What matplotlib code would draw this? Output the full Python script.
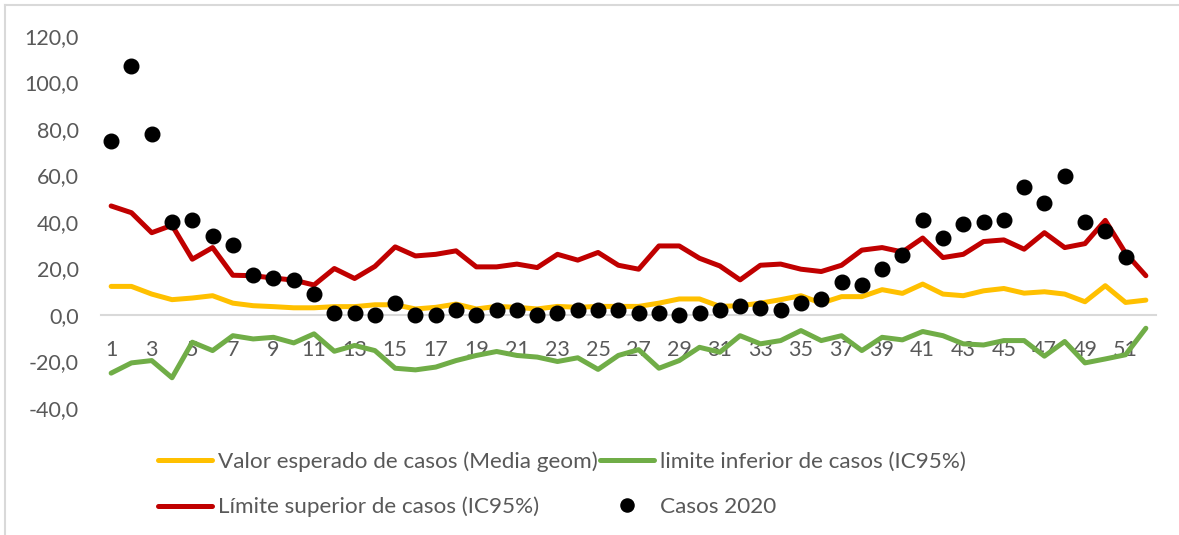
import matplotlib.pyplot as plt
from matplotlib.lines import Line2D

# semanas epidemiologicas
semanas = list(range(1, 53))

esperado = [12.3, 12.3, 9.0, 6.6, 7.3, 8.3, 5.1, 4.0, 3.6, 3.1,
            3.1, 3.6, 3.6, 4.4, 4.4, 2.6, 3.3, 4.7, 2.6, 3.7,
            3.3, 2.6, 3.7, 3.3, 3.7, 3.7, 3.7, 5.1, 6.9, 6.9,
            3.7, 4.0, 5.1, 6.6, 8.3, 5.1, 7.9, 7.9, 10.9, 9.3,
            13.3, 9.0, 8.3, 10.4, 11.4, 9.4, 10.0, 9.0, 5.7, 12.6,
            5.4, 6.4]

lim_inferior = [-25.0, -20.6, -19.6, -27.0, -11.7, -15.3, -8.9, -10.3, -9.6, -12.0,
                -8.1, -15.6, -13.1, -15.3, -22.9, -23.6, -22.4, -19.6, -17.4, -15.7,
                -17.4, -18.1, -20.0, -18.4, -23.4, -17.4, -14.9, -22.9, -19.6, -13.9,
                -16.0, -8.9, -12.4, -11.0, -6.7, -11.0, -8.9, -15.3, -9.6, -10.7,
                -7.1, -8.9, -12.4, -12.9, -11.0, -11.0, -17.7, -11.4, -20.6, -18.9,
                -17.1, -5.7]

lim_superior = [46.9, 44.0, 35.4, 38.6, 24.0, 29.0, 17.1, 16.9, 15.9, 15.0,
                12.9, 20.0, 15.7, 20.9, 29.3, 25.4, 26.1, 27.6, 20.7, 20.7,
                21.9, 20.4, 26.1, 23.6, 26.9, 21.4, 19.7, 29.7, 29.7, 24.4,
                21.1, 15.1, 21.4, 21.9, 19.7, 18.7, 21.4, 27.9, 29.0, 27.1,
                33.1, 24.7, 26.1, 31.6, 32.3, 28.3, 35.4, 29.0, 30.7, 40.7,
                26.6, 16.9]

semanas_2020 = list(range(1, 52))
casos_2020 = [75, 107, 78, 40, 41, 34, 30, 17, 16, 15,
              9, 1, 1, 0, 5, 0, 0, 2, 0, 2,
              2, 0, 1, 2, 2, 2, 1, 1, 0, 1,
              2, 4, 3, 2, 5, 7, 14, 13, 20, 26,
              41, 33, 39, 40, 41, 55, 48, 60, 40, 36,
              25]

gris = '#595959'
plt.rcParams['font.family'] = ['Lato', 'DejaVu Sans']

fig = plt.figure(figsize=(11.79, 5.35), dpi=100)
ax = fig.add_axes([101 / 1179, 1 - 408 / 535, (1156 - 101) / 1179, (408 - 36) / 535])

l1, = ax.plot(semanas, esperado, color='#FFC000', lw=3.6, solid_capstyle='round',
              label='Valor esperado de casos (Media geom)')
l2, = ax.plot(semanas, lim_inferior, color='#70AD47', lw=3.6, solid_capstyle='round',
              label='limite inferior de casos (IC95%)')
l3, = ax.plot(semanas, lim_superior, color='#C00000', lw=3.6, solid_capstyle='round',
              label='Límite superior de casos (IC95%)')
l4, = ax.plot(semanas_2020, casos_2020, 'o', color='black', ms=10.5, ls='none',
              label='Casos 2020')

ax.set_xlim(0.5, 52.5)
ax.set_ylim(-40, 120)
ax.set_yticks(range(-40, 121, 20))
ax.set_yticklabels([f'{v:.1f}'.replace('.', ',') for v in range(-40, 121, 20)])
ax.set_xticks(range(1, 52, 2))
ax.set_xticklabels([str(v) for v in range(1, 52, 2)])

for s in ['top', 'right', 'left']:
    ax.spines[s].set_visible(False)
ax.spines['bottom'].set_position(('data', 0))
ax.spines['bottom'].set_color('#D9D9D9')
ax.spines['bottom'].set_linewidth(1.5)
ax.spines['bottom'].set_zorder(0)
ax.tick_params(axis='y', length=0, pad=16, labelsize=15.5, labelcolor=gris)
ax.tick_params(axis='x', length=0, pad=18, labelsize=15.5, labelcolor=gris)

fig.legend(handles=[l1, l3, l2, l4], ncol=2, loc='upper left',
           bbox_to_anchor=(158 / 1179, 1 - 451 / 535), frameon=False,
           fontsize=16.2, labelcolor=gris, handlelength=2.4, handletextpad=0.25,
           columnspacing=0.12, labelspacing=1.12, borderpad=0, borderaxespad=0,
           markerscale=0.9)

# borde del area del grafico
fig.add_artist(Line2D([5 / 1179, 5 / 1179], [0, 1 - 5 / 535], transform=fig.transFigure,
                      color='#D9D9D9', lw=1.5))
fig.add_artist(Line2D([5 / 1179, 1], [1 - 5 / 535, 1 - 5 / 535], transform=fig.transFigure,
                      color='#D9D9D9', lw=1.5))

fig.savefig('out.png', dpi=100)
